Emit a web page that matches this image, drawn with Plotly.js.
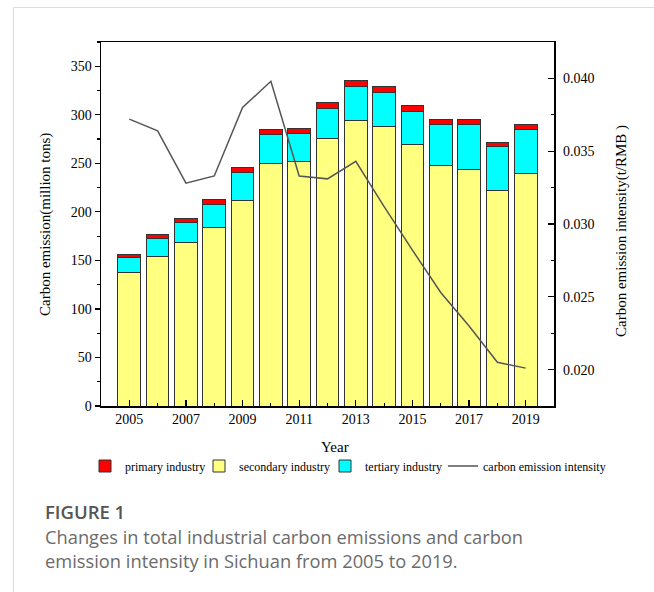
<!DOCTYPE html>
<html>
<head>
<meta charset="utf-8">
<script src="https://cdn.plot.ly/plotly-3.0.1.min.js"></script>
<style>
  html, body { margin: 0; padding: 0; background: #fff; }
  #wrap { position: relative; width: 654px; height: 592px; overflow: hidden; }
  #chart { position: absolute; left: 0; top: 0; width: 654px; height: 592px; }
  #frameTop { position: absolute; left: 13px; top: 7px; width: 641px; height: 0; border-top: 1.5px solid #dcdcdc; pointer-events: none; }
  #frameLeft { position: absolute; left: 13px; top: 7px; width: 0; height: 585px; border-left: 1.5px solid #dcdcdc; pointer-events: none; }
  #caption { position: absolute; left: 45px; top: 500px; font-family: "Open Sans", "Noto Sans", sans-serif; color: #6b6b6b; font-size: 18.3px; line-height: 24.5px; pointer-events: none; }
  #caption .fig { color: #555; font-weight: 600; font-size: 18.5px; }
</style>
</head>
<body>
<div id="wrap">
  <div id="chart"></div>
  <div id="frameTop"></div>
  <div id="frameLeft"></div>
  <div id="caption">
    <div class="fig">FIGURE 1</div>
    <div>Changes in total industrial carbon emissions and carbon</div>
    <div>emission intensity in Sichuan from 2005 to 2019.</div>
  </div>
</div>
<script>
// ---- data ----
const years = [2005, 2006, 2007, 2008, 2009, 2010, 2011, 2012, 2013, 2014, 2015, 2016, 2017, 2018, 2019];
const primaryIndustry   = [3.5, 4, 4, 5, 5.5, 5, 5, 6, 6.5, 6, 6, 5.5, 5.5, 4, 5];
const secondaryIndustry = [138, 154, 168, 184, 212, 250, 251.5, 276, 294, 288, 269, 247.5, 244, 222.5, 239.5];
const tertiaryIndustry  = [15, 18.3, 21, 24, 28.5, 29.5, 29, 31, 35, 35, 34.5, 42.5, 46, 45, 45];
const emissionIntensity = [0.0372, 0.0364, 0.0328, 0.0333, 0.0380, 0.0398, 0.0333, 0.0331, 0.0343, 0.0312, 0.0282, 0.0253, 0.0230, 0.0205, 0.0201];
const xTickVals = [2005, 2007, 2009, 2011, 2013, 2015, 2017, 2019];
const xTickText = ["2005", "2007", "2009", "2011", "2013", "2015", "2017", "2019"];

const serif = "Liberation Serif, Times New Roman, serif";
const barLine = { color: "#333333", width: 1 };

const traces = [
  { type: "bar", name: "secondary industry", x: years, y: secondaryIndustry, width: 0.8,
    marker: { color: "#ffff80", line: barLine }, legend: "legend2" },
  { type: "bar", name: "tertiary industry", x: years, y: tertiaryIndustry, width: 0.8,
    marker: { color: "#00ffff", line: barLine }, legend: "legend3" },
  { type: "bar", name: "primary industry", x: years, y: primaryIndustry, width: 0.8,
    marker: { color: "#ff0000", line: barLine }, legend: "legend" },
  { type: "scatter", mode: "lines", name: "carbon emission intensity", x: years, y: emissionIntensity,
    yaxis: "y2", line: { color: "#555555", width: 1.5 }, legend: "legend4" }
];

// pixel helpers for the paper coordinate system (plot area: x 101..554, y 42..406)
const PX = (px) => (px - 101) / 453;
const PY = (py) => (406 - py) / 364;

const legendFont = { family: serif, size: 12, color: "#000" };
const mkLegend = (px) => ({ orientation: "h", x: PX(px), xanchor: "left", y: PY(466), yanchor: "middle",
  font: legendFont, itemwidth: 30, bgcolor: "rgba(0,0,0,0)" });

const layout = {
  width: 654, height: 592,
  margin: { l: 101, r: 100, t: 42, b: 186 },
  paper_bgcolor: "#ffffff", plot_bgcolor: "#ffffff",
  barmode: "stack",
  font: { family: serif, color: "#000", size: 14 },
  showlegend: true,
  legend: mkLegend(85),
  legend2: mkLegend(199),
  legend3: mkLegend(325),
  legend4: mkLegend(443),
  xaxis: {
    range: [2004, 2020], tickmode: "array", tickvals: xTickVals, ticktext: xTickText,
    ticks: "inside", ticklen: 6, tickwidth: 1.2, tickcolor: "#000",
    minor: { tickmode: "array", tickvals: years, ticks: "inside", ticklen: 3, tickcolor: "#000" },
    showline: true, mirror: true, linecolor: "#000", linewidth: 1.5, showgrid: false, zeroline: false,
    tickfont: { family: serif, size: 14 }
  },
  yaxis: {
    range: [0, 375], tick0: 0, dtick: 50, ticks: "outside", ticklen: 5, tickwidth: 1.2, tickcolor: "#000",
    minor: { dtick: 25, ticks: "outside", ticklen: 3, tickcolor: "#000" },
    showline: true, mirror: true, linecolor: "#000", linewidth: 1.5, showgrid: false, zeroline: false,
    tickfont: { family: serif, size: 14 }
  },
  yaxis2: {
    overlaying: "y", side: "right", range: [0.0175, 0.0425], tick0: 0.02, dtick: 0.005, tickformat: ".3f",
    ticks: "inside", ticklen: 6, tickwidth: 1.2, tickcolor: "#000", ticklabelstandoff: 8,
    minor: { dtick: 0.0025, ticks: "inside", ticklen: 3, tickcolor: "#000" },
    showline: false, showgrid: false, zeroline: false,
    tickfont: { family: serif, size: 14 }
  },
  annotations: [
    { text: "Year", xref: "paper", yref: "paper", x: PX(335), y: PY(447), xanchor: "center", yanchor: "middle",
      showarrow: false, font: { family: serif, size: 15, color: "#000" } },
    { text: "Carbon emission(million tons)", xref: "paper", yref: "paper", x: PX(45), y: PY(225), textangle: -90,
      xanchor: "center", yanchor: "middle", showarrow: false, font: { family: serif, size: 15, color: "#000" } },
    { text: "Carbon emission intensity(t/RMB )", xref: "paper", yref: "paper", x: PX(622), y: PY(231), textangle: -90,
      xanchor: "center", yanchor: "middle", showarrow: false, font: { family: serif, size: 15, color: "#000" } }
  ]
};

Plotly.newPlot("chart", traces, layout, { displayModeBar: false, staticPlot: true });
</script>
</body>
</html>
